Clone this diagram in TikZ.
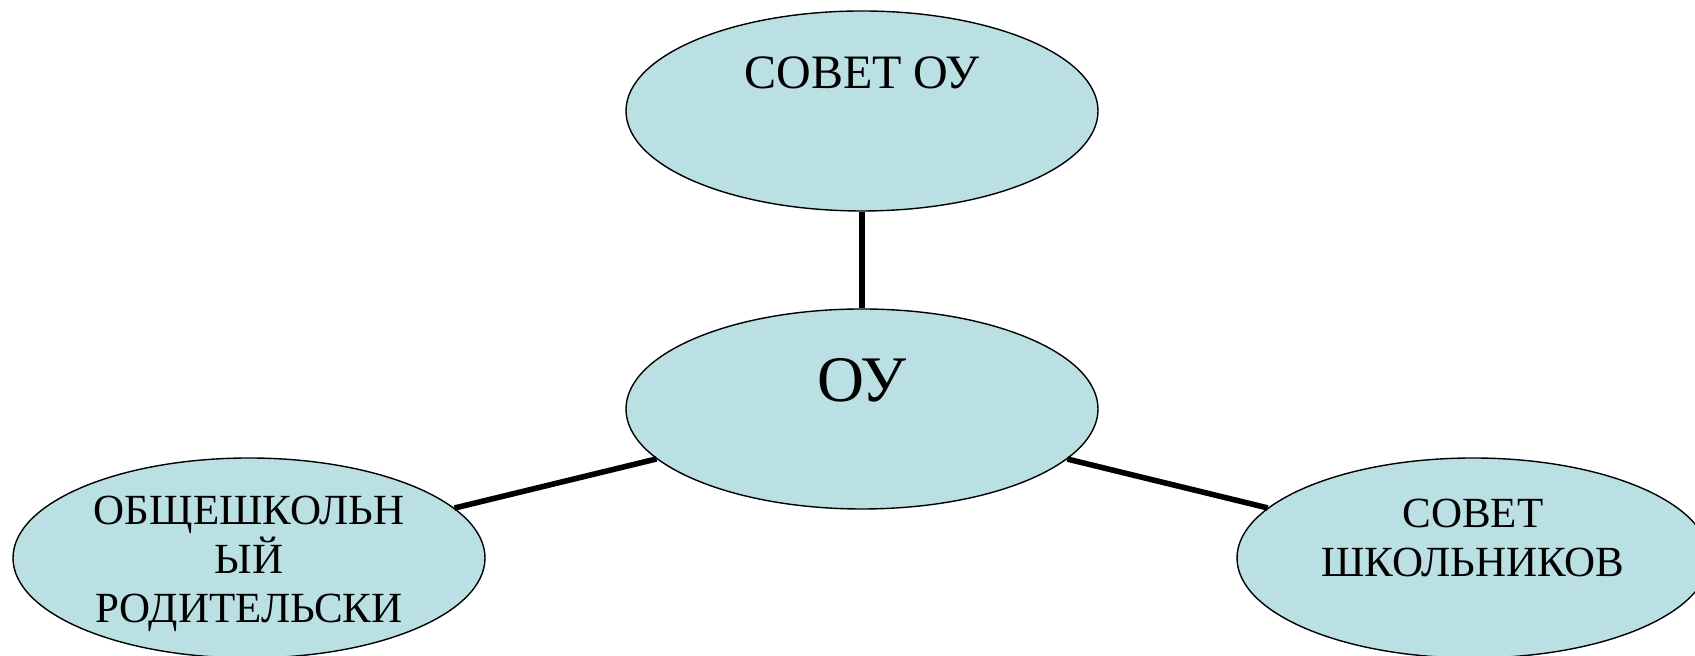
\documentclass[tikz,border=0pt]{standalone}
\usepackage{fontspec}
\setmainfont{Liberation Serif}
\usetikzlibrary{shapes.geometric}
\definecolor{oufill}{HTML}{BBE0E3}
\begin{document}
\begin{tikzpicture}[x=0.5pt,y=0.5pt,
  bubble/.style={ellipse,draw=black,line width=0.7pt,fill=oufill,minimum width=236pt,minimum height=100pt,inner sep=0pt},
  link/.style={line width=2.8pt},
  txt/.style={align=center,inner sep=0pt,font=\fontsize{21.5}{24.5}\selectfont}]
 \useasboundingbox (0,0) rectangle (1695,656);
 \node[bubble] (sovet) at (862,545) {};
 \node[bubble] (ou) at (862,247) {};
 \node[bubble] (rod) at (249,98) {};
 \node[bubble] (shk) at (1473,98) {};
 \draw[link] (ou) -- (sovet);
 \draw[link] (ou) -- (rod);
 \draw[link] (ou) -- (shk);
 \node[txt,anchor=base,font=\fontsize{24}{28}\selectfont] (sovettxt) at (862,567) {СОВЕТ ОУ};
 \node[txt,anchor=base,font=\fontsize{32.5}{37}\selectfont] (outxt) at (862,254) {ОУ};
 \node[txt] (rodtxt) at (249,92) {ОБЩЕШКОЛЬН\\ЫЙ\\РОДИТЕЛЬСКИ};
 \node[txt] (shktxt) at (1473,118) {СОВЕТ\\ШКОЛЬНИКОВ};
\end{tikzpicture}
\end{document}
